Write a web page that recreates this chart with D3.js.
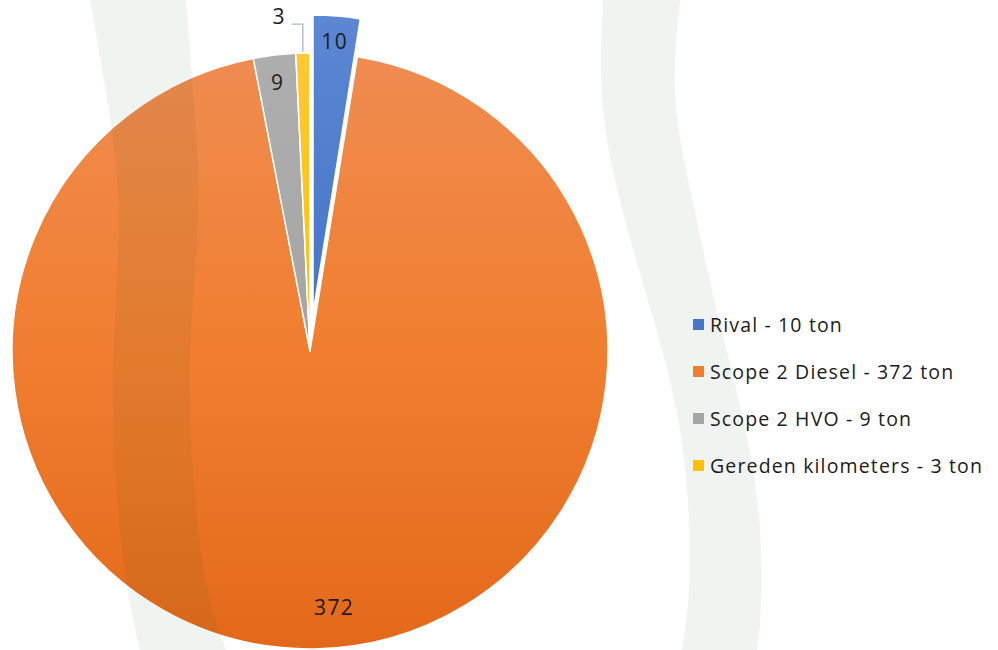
<!DOCTYPE html>
<html>
<head>
<meta charset="utf-8">
<script src="https://cdn.jsdelivr.net/npm/d3@7"></script>
<style>
  body { margin: 0; background: #fff; }
  svg { display: block; }
  text { font-family: "Open Sans", "Noto Sans", sans-serif; fill: #1c1c1c; }
</style>
</head>
<body>
<svg id="chart" width="998" height="650"></svg>
<script>
// Data
const categories = ["Rival", "Scope 2 Diesel", "Scope 2 HVO", "Gereden kilometers"];
const values = [10, 372, 9, 3];
const unit = "ton";
const colors = ["#4472C4", "#ED7D31", "#A5A5A5", "#FFC000"];
// top / middle / bottom shades of the gradient fill
const shades = [
    ["#5B87D3", "#4775C9", "#3A66BE"],
    ["#EF8C51", "#F17E2F", "#E3691A"],
    ["#AEAEAE", "#A5A5A5", "#9A9A9A"],
    ["#FFC933", "#FFC000", "#F3B600"]
];
const exploded = [true, false, false, false];

const cx = 310, cy = 351;
const radius = 298;
const explodeOffset = 38;

const svg = d3.select("#chart");
const defs = svg.append("defs");

shades.forEach((s, i) => {
    const g = defs.append("linearGradient")
        .attr("id", `grad${i}`)
        .attr("gradientUnits", "userSpaceOnUse")
        .attr("x1", 0).attr("y1", -radius)
        .attr("x2", 0).attr("y2", radius);
    g.append("stop").attr("offset", "0%").attr("stop-color", s[0]);
    g.append("stop").attr("offset", "50%").attr("stop-color", s[1]);
    g.append("stop").attr("offset", "100%").attr("stop-color", s[2]);
});

// Decorative background bands
const bandLeft = [[90, 0], [108, 100], [122, 200], [115, 300], [112, 400], [116, 500], [128, 600], [140, 650]];
const bandLeftR = [[186, 0], [194, 100], [201, 200], [192, 300], [188, 400], [194, 500], [207, 600], [226, 650]];
const bandRight = [[603, 0], [598, 100], [618, 200], [648, 300], [677, 400], [690, 500], [690, 600], [682, 650]];
const bandRightR = [[680, 0], [670, 100], [693, 200], [713, 300], [740, 400], [760, 500], [763, 600], [757, 650]];

const bandLine = d3.line().curve(d3.curveBasis);
function bandPath(a, b) {
    return bandLine(a) + "L" + bandLine(b.slice().reverse()).slice(1) + "Z";
}

const pie = d3.pie().value(d => d).sort(null);
const arcs = pie(values);
const arc = d3.arc().innerRadius(0).outerRadius(radius);

const pieG = svg.append("g").attr("transform", `translate(${cx},${cy})`);

pieG.selectAll("path.slice")
    .data(arcs)
    .enter()
    .append("path")
    .attr("class", "slice")
    .attr("transform", (d, i) => {
        if (!exploded[i]) return null;
        const mid = (d.startAngle + d.endAngle) / 2;
        return `translate(${Math.sin(mid) * explodeOffset},${-Math.cos(mid) * explodeOffset})`;
    })
    .attr("d", arc)
    .attr("fill", (d, i) => `url(#grad${i})`)
    .attr("stroke", "#fff")
    .attr("stroke-width", 1.5)
    .attr("stroke-linejoin", "round");

// Bands drawn over the pie, semi transparent
[[bandLeft, bandLeftR], [bandRight, bandRightR]].forEach(b => {
    svg.append("path")
        .attr("d", bandPath(b[0], b[1]))
        .attr("fill", "rgb(26,84,26)")
        .attr("fill-opacity", 0.065);
});

// Data labels
const labelR = [272, 257, 270, null];
const labelDx = [0, 20, 0, 0];
const labelStyle = sel => sel
    .style("font-size", "21px")
    .style("letter-spacing", "1.4px");

arcs.forEach((d, i) => {
    const mid = (d.startAngle + d.endAngle) / 2;
    const off = exploded[i] ? explodeOffset : 0;
    if (labelR[i] !== null) {
        const r = labelR[i] + off;
        pieG.append("text")
            .attr("x", Math.sin(mid) * r + labelDx[i])
            .attr("y", -Math.cos(mid) * r)
            .attr("dy", "0.35em")
            .attr("text-anchor", "middle")
            .call(labelStyle)
            .text(d.data);
    } else {
        // small slice: label outside with leader line
        const x0 = Math.sin(mid) * (radius + 1);
        const y0 = -Math.cos(mid) * (radius + 1);
        const yL = y0 - 28;
        pieG.append("path")
            .attr("d", `M${x0},${y0}V${yL}H${x0 - 11}`)
            .attr("fill", "none")
            .attr("stroke", "#A9B8C8")
            .attr("stroke-width", 1.3);
        pieG.append("text")
            .attr("x", x0 - 17)
            .attr("y", yL - 7)
            .attr("dy", "0.35em")
            .attr("text-anchor", "end")
            .call(labelStyle)
            .text(d.data);
    }
});

// Legend
const legend = svg.append("g").attr("transform", "translate(693,325)");
const item = legend.selectAll("g.legend-item")
    .data(categories)
    .enter()
    .append("g")
    .attr("class", "legend-item")
    .attr("transform", (d, i) => `translate(0,${i * 47})`);

item.append("rect")
    .attr("x", 0)
    .attr("y", -6)
    .attr("width", 11)
    .attr("height", 11)
    .attr("fill", (d, i) => shades[i][1]);

item.append("text")
    .attr("x", 17)
    .attr("y", 0)
    .attr("dy", "0.35em")
    .style("font-size", "19.5px")
    .style("letter-spacing", "1.15px")
    .text((d, i) => `${d} - ${values[i]} ${unit}`);
</script>
</body>
</html>
